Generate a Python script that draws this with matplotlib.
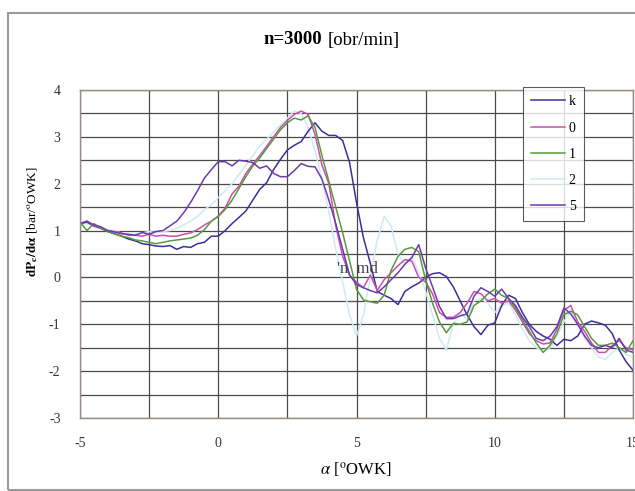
import numpy as np
import matplotlib
matplotlib.use("Agg")
import matplotlib.pyplot as plt
from matplotlib.patches import Rectangle

plt.rcParams['font.family'] = ['Liberation Serif', 'DejaVu Serif']
plt.rcParams['mathtext.fontset'] = 'stix'
plt.rcParams['axes.unicode_minus'] = False

alpha = np.arange(-5, 15.001, 0.25)

series_k = [1.15, 1.18, 1.1, 1.05, 0.98, 0.93, 0.88, 0.82, 0.78, 0.72, 0.7, 0.67, 0.66, 0.68, 0.6, 0.66,
            0.64, 0.72, 0.75, 0.88, 0.88, 1.0, 1.15, 1.28, 1.42, 1.65, 1.88, 2.02, 2.3, 2.52, 2.72, 2.82,
            2.9, 3.12, 3.3, 3.12, 3.03, 3.03, 2.92, 2.45, 1.6, 0.85, 0.3, -0.3, -0.38, -0.45, -0.58, -0.3,
            -0.2, -0.12, 0.0, 0.08, 0.1, 0.02, -0.2, -0.5, -0.8, -1.05, -1.22, -1.02, -0.97, -0.6, -0.38,
            -0.45, -0.75, -1.0, -1.15, -1.25, -1.32, -1.45, -1.32, -1.35, -1.25, -1.0, -0.93, -0.97, -1.02,
            -1.2, -1.55, -1.8, -1.98]

series_0 = [1.15, 1.2, 1.1, 1.05, 1.0, 0.98, 0.95, 0.9, 0.9, 0.88, 0.92, 0.88, 0.9, 0.88, 0.88, 0.92,
            0.95, 1.02, 1.12, 1.2, 1.31, 1.48, 1.78, 1.95, 2.22, 2.42, 2.6, 2.8, 3.0, 3.2, 3.35, 3.48,
            3.55, 3.48, 3.05, 2.4, 2.0, 1.1, 0.45, 0.05, -0.1, -0.22, 0.05, -0.28, -0.05, 0.1, 0.25, 0.38,
            0.35, 0.0, -0.1, -0.35, -0.75, -0.85, -0.85, -0.75, -0.55, -0.3, -0.35, -0.5, -0.45, -0.55,
            -0.5, -0.7, -0.95, -1.2, -1.35, -1.42, -1.4, -1.1, -0.7, -0.6, -0.95, -1.15, -1.4, -1.6, -1.6,
            -1.45, -1.35, -1.5, -1.55]

series_1 = [1.18, 1.0, 1.15, 1.05, 0.98, 0.93, 0.88, 0.85, 0.8, 0.78, 0.75, 0.72, 0.75, 0.78, 0.8, 0.82,
            0.84, 0.9, 1.02, 1.2, 1.3, 1.45, 1.65, 1.9, 2.15, 2.38, 2.55, 2.75, 2.95, 3.15, 3.3, 3.4,
            3.36, 3.45, 3.2, 2.6, 2.05, 1.5, 0.95, 0.35, -0.25, -0.48, -0.52, -0.55, -0.38, 0.15, 0.45, 0.6,
            0.64, 0.55, -0.05, -0.55, -0.95, -1.18, -0.98, -1.0, -0.95, -0.6, -0.5, -0.35, -0.25, -0.38,
            -0.45, -0.65, -0.9, -1.15, -1.4, -1.6, -1.45, -1.2, -0.8, -0.72, -0.8, -1.05, -1.3, -1.45, -1.45,
            -1.4, -1.5, -1.6, -1.35]

series_2 = [1.12, 1.15, 1.08, 1.05, 1.02, 0.98, 0.95, 0.93, 0.92, 0.95, 0.98, 0.95, 0.98, 1.0, 1.05, 1.12,
            1.2, 1.3, 1.45, 1.55, 1.7, 1.85, 2.0, 2.2, 2.4, 2.6, 2.8, 2.95, 3.1, 3.25, 3.4, 3.55,
            3.5, 3.2, 2.7, 2.1, 1.4, 0.6, -0.1, -0.8, -1.25, -0.8, 0.0, 0.8, 1.3, 1.1, 0.5, 0.3,
            0.45, 0.1, -0.3, -0.8, -1.3, -1.55, -1.0, -0.75, -0.9, -0.5, -0.45, -0.55, -0.75, -0.6,
            -0.55, -0.8, -1.1, -1.35, -1.5, -1.55, -1.5, -1.25, -0.95, -0.7, -1.0, -1.3, -1.5, -1.7, -1.75,
            -1.6, -1.5, -1.65, -1.7]

series_5 = [1.15, 1.2, 1.12, 1.08, 1.0, 0.97, 0.93, 0.92, 0.9, 0.96, 0.92, 0.98, 1.0, 1.1, 1.2, 1.38,
            1.6, 1.85, 2.12, 2.3, 2.47, 2.47, 2.38, 2.5, 2.48, 2.45, 2.33, 2.38, 2.22, 2.15, 2.15, 2.28,
            2.43, 2.37, 2.36, 2.1, 1.65, 1.15, 0.6, 0.05, -0.15, -0.22, -0.28, -0.33, -0.2, -0.05, 0.1, 0.28,
            0.42, 0.7, 0.2, -0.2, -0.62, -0.88, -0.88, -0.82, -0.78, -0.4, -0.22, -0.3, -0.4, -0.25,
            -0.45, -0.6, -0.85, -1.05, -1.3, -1.35, -1.25, -1.05, -0.65, -0.78, -1.0, -1.25, -1.45, -1.5, -1.45,
            -1.5, -1.3, -1.55, -1.6]

labels = ['k', '0', '1', '2', '5']
colors = ['#3c2f9c', '#c850b0', '#5a9a3a', '#cfeaf3', '#6a3cae']
data = [series_k, series_0, series_1, series_2, series_5]

fig = plt.figure(figsize=(6.35, 4.91), dpi=100)
fig.patch.set_facecolor('white')
fig.add_artist(Rectangle((8 / 635, 1 / 491), 1.2, 1 - 14 / 491, transform=fig.transFigure,
                         fill=False, edgecolor='#9a9a9a', lw=1.5))

ax = fig.add_axes([80 / 635, 1 - 418 / 491, 553 / 635, 328 / 491])
ax.set_xlim(-5, 15)
ax.set_ylim(-3, 4)
ax.set_xticks([-5, 0, 5, 10, 15])
ax.set_xticks(np.arange(-5, 15.01, 2.5), minor=True)
ax.set_yticks(np.arange(-3, 4.01, 1))
ax.set_yticks(np.arange(-3, 4.01, 0.5), minor=True)
ax.grid(True, which='both', color='#4a4a4a', lw=0.9)
ax.set_axisbelow(True)
ax.tick_params(which='both', length=0, labelsize=10, pad=14, colors='#333333')
for s in ax.spines.values():
    s.set_color('#9a8a85')
    s.set_linewidth(1.0)

order = [3, 0, 1, 2, 4]
handles = {}
for i in order:
    ln, = ax.plot(alpha, data[i], color=colors[i], lw=1.1, label=labels[i])
    handles[i] = ln

ax.text(4.3, 0.17, "'n  md", fontsize=12, color='#444444', va='center', ha='left')

leg = fig.legend([handles[i] for i in range(5)], labels, loc='upper left',
                 bbox_to_anchor=(523 / 635, 1 - 87 / 491), frameon=True, fancybox=False,
                 edgecolor='#333333', fontsize=10, handlelength=2.4, labelspacing=0.95,
                 borderpad=0.6, handletextpad=0.3, borderaxespad=0)
leg.get_frame().set_linewidth(0.8)

fig.text(0.508, 1 - 40 / 491, 'n=3000', fontweight='bold', fontsize=13.5, ha='right', va='center')
fig.text(0.516, 1 - 40 / 491, '[obr/min]', fontsize=13.5, ha='left', va='center')

fig.text(356 / 635, 1 - 470 / 491, r'$\alpha$ [$^{\mathrm{o}}$OWK]', fontsize=12, ha='center', va='center')
fig.text(33 / 635, 1 - 222 / 491, r'$\mathbf{dP_c/d\alpha}$ [bar/$^{\mathrm{o}}$OWK]', fontsize=9.5,
         rotation=90, ha='center', va='center')

fig.savefig('out.png', dpi=100)
